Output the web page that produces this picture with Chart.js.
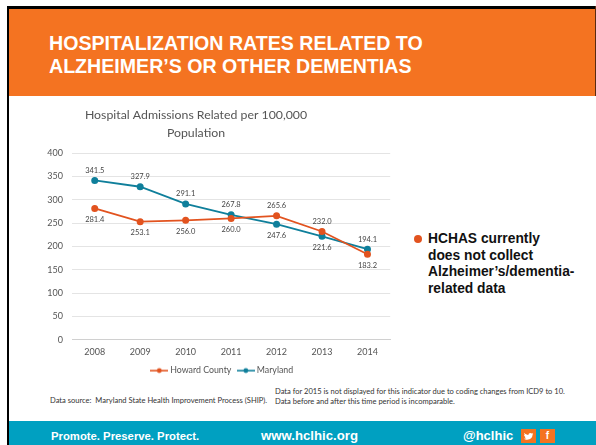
<!DOCTYPE html>
<html><head><meta charset="utf-8">
<script src="https://cdn.jsdelivr.net/npm/chart.js@4"></script>
<style>
html,body{margin:0;padding:0;background:#fff;width:596px;height:445px;overflow:hidden}
.a{position:absolute;white-space:nowrap}
#frameT{left:7px;top:6px;width:589px;height:3px;background:#000}
#frameL{left:7px;top:6px;width:2px;height:439px;background:#000}
#frameR{left:595px;top:6px;width:1px;height:90px;background:#5a2a10}
#banner{left:9px;top:9px;width:586px;height:87px;background:#f47321}
#head{left:49px;top:32px;font:bold 19.6px/23px "Liberation Sans";color:#fff}
#foot{left:9px;top:421px;width:587px;height:24px;background:#00a0c1}
.f{font:bold 11.3px/16px "Liberation Sans";color:#fff;top:428px}
.s{top:429px;width:15px;height:14px;background:#f47321;color:#fff;font:bold 10px/14px "Liberation Sans";text-align:center}
.n{font:7.55px/10px "Lato";color:#333}
#bul{left:414px;top:235px;width:8px;height:8px;border-radius:50%;background:#e2531f}
#bt{left:428px;top:231px;font:bold 13.8px/16.6px "Liberation Sans";color:#111}
#c{position:absolute;left:0;top:100px}
</style></head><body>
<div class="a" id="frameT"></div><div class="a" id="frameL"></div><div class="a" id="frameR"></div>
<div class="a" id="banner"></div>
<div class="a" id="head">HOSPITALIZATION RATES RELATED TO<br>ALZHEIMER’S OR OTHER DEMENTIAS</div>
<canvas id="c" width="396" height="285"></canvas>
<div class="a" id="bul"></div>
<div class="a" id="bt">HCHAS currently<br>does not collect<br>Alzheimer’s/dementia-<br>related data</div>
<div class="a n" style="left:50px;top:396px">Data source:&nbsp; Maryland State Health Improvement Process (SHIP).</div>
<div class="a n" style="left:275px;top:387px">Data for 2015 is not displayed for this indicator due to coding changes from ICD9 to 10.</div>
<div class="a n" style="left:275px;top:397px">Data before and after this time period is incomparable.</div>
<div class="a" id="foot"></div>
<div class="a f" style="left:51px">Promote. Preserve. Protect.</div>
<div class="a f" style="left:261px;font-size:13.2px">www.hclhic.org</div>
<div class="a f" style="left:463px;font-size:13px">@hclhic</div>
<div class="a s" style="left:521px"><svg width="15" height="14" viewBox="0 0 15 14"><path d="M3 4c1.4 1.2 2.8 1.8 4.4 1.9C7.3 4.3 9.6 3.3 10.8 4.6l1.4-.4-.8 1.2.9-.2-.8.9c0 3-3 5.2-6.4 4.6-.9-.1-1.7-.4-2.4-.9 1 .1 1.9-.1 2.7-.7-.9-.1-1.5-.6-1.7-1.3h.8C3.6 7.400 3.100 6.700 3.100 5.900l.8.200C3.100 5.500 2.800 4.800 3 4z" fill="#fff"/></svg></div>
<div class="a s" style="left:540px">f</div>
<script>
const years=['2008','2009','2010','2011','2012','2013','2014'];
const howard=[281.4,253.1,256.0,260.0,265.6,232.0,183.2];
const maryland=[341.5,327.9,291.1,267.8,247.6,221.6,194.1];
const howardBelow=[true,true,true,true,false,false,true];
const marylandBelow=[false,false,false,false,true,true,false];
const titleLines=['Hospital Admissions Related per 100,000','Population'];
const FONT='Lato';
function icon(col){const k=document.createElement('canvas');k.width=18;k.height=8;const x=k.getContext('2d');
 x.strokeStyle=col;x.lineWidth=1.6;x.beginPath();x.moveTo(0,4);x.lineTo(18,4);x.stroke();
 x.fillStyle=col;x.beginPath();x.arc(9,4,2.4,0,7);x.fill();return k;}
const labelPlugin={id:'vals',
 afterLayout(ch){ch.legend.left+=27;ch.legend.right+=27;},
 afterDatasetsDraw(ch){const g=ch.ctx;g.save();g.font='7.5px '+FONT;g.fillStyle='#444';g.textAlign='center';g.textBaseline='middle';
 [[0,howardBelow],[1,marylandBelow]].forEach(([d,below])=>{ch.getDatasetMeta(d).data.forEach((p,i)=>{
  g.fillText(ch.data.datasets[d].data[i].toFixed(1),p.x,p.y+(below[i]?11:-10));});});g.restore();}};
new Chart(document.getElementById('c'),{type:'line',plugins:[labelPlugin],
 data:{labels:years,datasets:[
  {label:'Howard County',data:howard,borderColor:'#e2531f',backgroundColor:'#e2531f',borderWidth:1.8,pointRadius:2.6,tension:0,pointStyle:'circle'},
  {label:'Maryland',data:maryland,borderColor:'#0f7f9b',backgroundColor:'#0f7f9b',borderWidth:1.8,pointRadius:2.6,tension:0,pointStyle:'circle'}]},
 options:{responsive:false,animation:false,
  layout:{padding:{left:0,right:4,top:0,bottom:0}},
  plugins:{tooltip:{enabled:false},
   title:{display:true,text:titleLines,color:'#555',font:{family:FONT,size:12.3,weight:'normal',lineHeight:1.5},padding:{top:5.5,bottom:10.7},align:'center',position:'top'},
   legend:{position:'bottom',labels:{usePointStyle:true,pointStyleWidth:13,boxHeight:8,color:'#555',font:{family:FONT,size:8.8},padding:8,
     generateLabels(ch){return ch.data.datasets.map((d,i)=>({text:d.label,datasetIndex:i,fontColor:'#555',pointStyle:icon(d.borderColor),strokeStyle:d.borderColor,fillStyle:d.borderColor,lineWidth:0}));}}}},
  scales:{
   x:{offset:true,afterFit(a){a.height=18.5;},grid:{display:false,drawTicks:false},border:{color:'#d0d0d0'},ticks:{color:'#555',font:{family:FONT,size:9},padding:7}},
   y:{min:0,max:400,afterFit(a){a.width=72;},grid:{color:'#e4e4e4',lineWidth:1,drawTicks:false},border:{display:false},ticks:{stepSize:50,color:'#555',font:{family:FONT,size:9},padding:9}}
  }}});
</script></body></html>
